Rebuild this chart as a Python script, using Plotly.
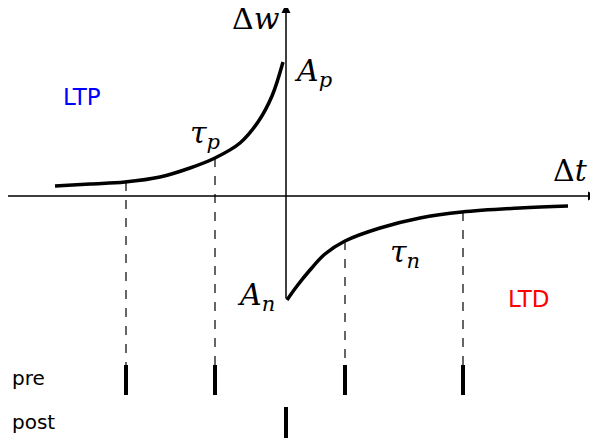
import plotly.graph_objects as go

# curve samples (pixel coordinates, y grows downward)
ltp_x = [55, 90, 125, 160, 190, 215, 240, 258, 272, 283]
ltp_y = [186, 184, 182, 177, 168, 158, 143, 122, 96, 62]
ltd_x = [287, 297, 310, 325, 345, 380, 420, 462, 520, 568]
ltd_y = [300, 286, 270, 254, 241, 228, 218, 212, 208, 206]

# spike times (pre / post) and where the dashed guides meet the curves
pre_x = [126, 215, 345, 463]
pre_top = [182, 158, 241, 212]
post_x = [286]

fig = go.Figure()
line = dict(color="black", width=3.5)
fig.add_trace(go.Scatter(x=ltp_x, y=ltp_y, mode="lines", line=dict(shape="spline", **line)))
fig.add_trace(go.Scatter(x=ltd_x, y=ltd_y, mode="lines", line=dict(shape="spline", **line)))

for x, top in zip(pre_x, pre_top):
    fig.add_shape(type="line", x0=x, x1=x, y0=top, y1=365,
                  line=dict(color="black", width=1.2, dash="dash"))
    fig.add_shape(type="line", x0=x, x1=x, y0=365, y1=395,
                  line=dict(color="black", width=4))
for x in post_x:
    fig.add_shape(type="line", x0=x, x1=x, y0=407, y1=438,
                  line=dict(color="black", width=4))

# axes with arrowheads
fig.add_annotation(x=597, y=196, ax=0, ay=196, xref="x", yref="y", axref="x", ayref="y",
                   showarrow=True, arrowhead=2, arrowwidth=1.5, arrowsize=1.2,
                   arrowcolor="black", text="")
fig.add_annotation(x=286, y=4, ax=286, ay=300, xref="x", yref="y", axref="x", ayref="y",
                   showarrow=True, arrowhead=2, arrowwidth=1.5, arrowsize=1.2,
                   arrowcolor="black", text="")

serif = dict(family="DejaVu Serif", size=30, color="black")
labels = [
    (256, 18, "Δ<i>w</i>"),
    (570, 170, "Δ<i>t</i>"),
    (313, 72, "<i>A</i><sub><i>p</i></sub>"),
    (256, 296, "<i>A</i><sub><i>n</i></sub>"),
    (205, 134, "<i>τ</i><sub><i>p</i></sub>"),
    (405, 253, "<i>τ</i><sub><i>n</i></sub>"),
]
for x, y, t in labels:
    fig.add_annotation(x=x, y=y, text=t, showarrow=False, font=serif)

sans = dict(family="DejaVu Sans", size=23)
fig.add_annotation(x=82, y=97, text="LTP", showarrow=False, font=dict(color="blue", **sans))
fig.add_annotation(x=528, y=299, text="LTD", showarrow=False, font=dict(color="red", **sans))
fig.add_annotation(x=10, y=378, text="pre", xanchor="left", showarrow=False,
                   font=dict(family="DejaVu Sans", size=20, color="black"))
fig.add_annotation(x=10, y=422, text="post", xanchor="left", showarrow=False,
                   font=dict(family="DejaVu Sans", size=20, color="black"))

# the page body adds an 8px margin, so shift the ranges to compensate
fig.update_layout(
    width=598, height=440, margin=dict(l=0, r=0, t=0, b=0),
    plot_bgcolor="white", paper_bgcolor="white", showlegend=False,
    xaxis=dict(range=[8, 606], visible=False, fixedrange=True),
    yaxis=dict(range=[448, 8], visible=False, fixedrange=True),
)
fig.write_html("out.html")
